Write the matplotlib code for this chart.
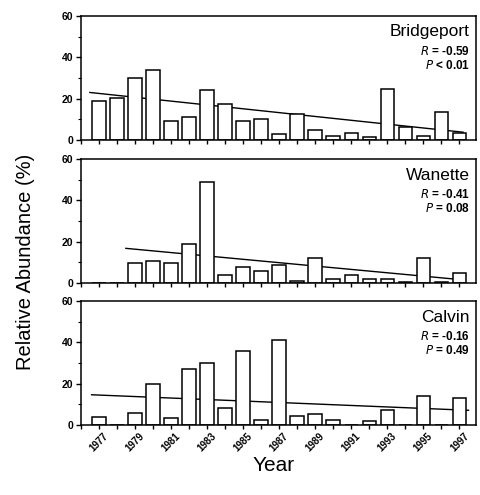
import numpy as np
import matplotlib.pyplot as plt
from matplotlib.ticker import MultipleLocator

plt.rcParams['font.family'] = ['Liberation Sans', 'DejaVu Sans']

years = np.arange(1977, 1998)

bridgeport = [19, 20.5, 30, 34, 9, 11, 24, 17.5, 9, 10, 3, 12.5, 5, 2, 3.5, 1.5, 24.5, 6.5, 2, 13.5, 3.5]
wanette = [0, 0, 9.5, 10.5, 9.5, 19, 49, 4, 8, 6, 9, 0.8, 12, 2, 4, 2, 2, 0.6, 12, 0.6, 5]
calvin = [4, 0, 6, 20, 3.7, 27, 30, 8.5, 36, 2.5, 41, 4.5, 5.5, 2.5, 0, 2.2, 7.2, 0.3, 14.2, 0.3, 13]

sites = ['Bridgeport', 'Wanette', 'Calvin']
r_text = ['$\\bf{\\it{R}}$ = -0.59', '$\\bf{\\it{R}}$ = -0.41', '$\\bf{\\it{R}}$ = -0.16']
p_text = ['$\\bf{\\it{P}}$ < 0.01', '$\\bf{\\it{P}}$ = 0.08', '$\\bf{\\it{P}}$ = 0.49']

# regression lines (start/end x, y)
trend_x = [[1976.5, 1997.2], [1978.5, 1997.3], [1976.6, 1997.5]]
trend_y = [[23, 3.8], [16.8, 1.5], [14.7, 7.2]]

data = [bridgeport, wanette, calvin]

fig = plt.figure(figsize=(4.81, 4.95), dpi=100)
bottoms = [0.717, 0.428, 0.141]
axes = []
for i in range(3):
    ax = fig.add_axes([0.168, bottoms[i], 0.821, 0.251])
    axes.append(ax)
    ax.plot(trend_x[i], trend_y[i], color='black', linewidth=1.0, zorder=1)
    ax.bar(years, data[i], width=0.75, color='white', edgecolor='black', linewidth=1.1, zorder=2)
    ax.set_xlim(1976, 1997.9)
    ax.set_ylim(0, 60)
    ax.set_yticks([0, 20, 40, 60])
    ax.yaxis.set_minor_locator(MultipleLocator(10))
    ax.set_xticks(np.arange(1976, 1998))
    ax.tick_params(axis='y', which='major', length=3.5, width=1, labelsize=7.5, pad=2)
    ax.tick_params(axis='y', which='minor', length=2, width=0.8)
    ax.tick_params(axis='x', length=3, width=1, pad=1)
    for lab in ax.get_yticklabels():
        lab.set_fontweight('bold')
    for sp in ax.spines.values():
        sp.set_linewidth(1.1)
    ax.text(0.985, 0.87, sites[i], transform=ax.transAxes, ha='right', va='center', fontsize=12.5)
    ax.text(0.985, 0.71, r_text[i], transform=ax.transAxes, ha='right', va='center', fontsize=8.5, fontweight='bold')
    ax.text(0.985, 0.60, p_text[i], transform=ax.transAxes, ha='right', va='center', fontsize=8.5, fontweight='bold')

for ax in axes[:2]:
    ax.set_xticklabels([])

labels = [str(y) if (y % 2 == 1) else '' for y in range(1976, 1998)]
axes[2].set_xticklabels(labels, rotation=45, ha='center', fontsize=7, fontweight='bold')

fig.text(0.568, 0.06, 'Year', ha='center', va='center', fontsize=15)
fig.text(0.053, 0.47, 'Relative Abundance (%)', rotation=90, ha='center', va='center', fontsize=14.5)

plt.savefig('out.png', dpi=100)
